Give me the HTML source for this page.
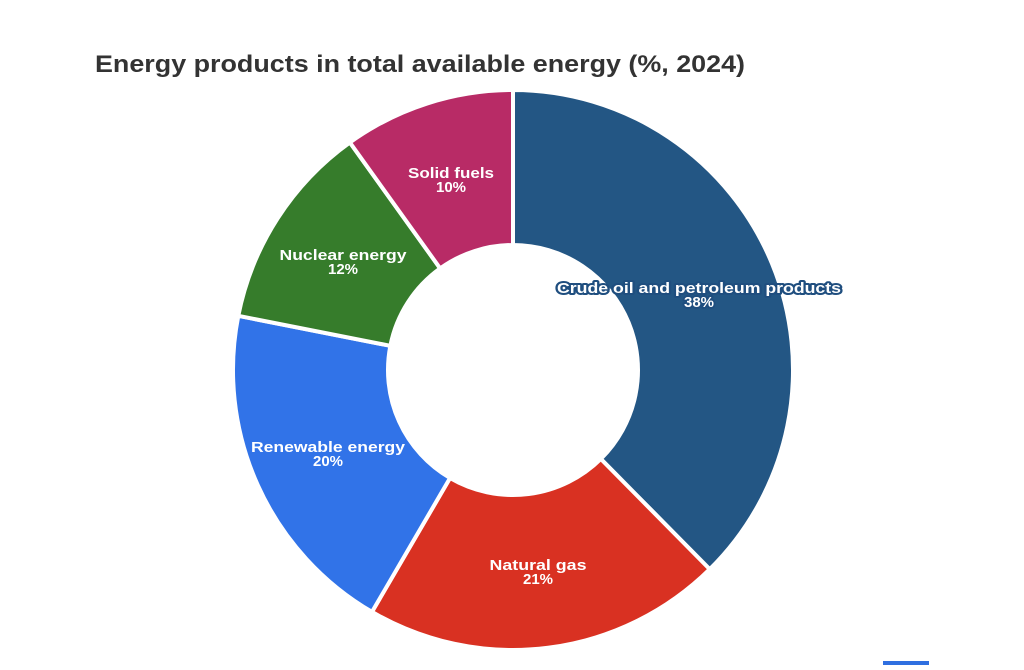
<!DOCTYPE html>
<html><head><meta charset="utf-8"><style>
body{margin:0;background:#fff;width:1024px;height:665px;overflow:hidden;font-family:"Liberation Sans",sans-serif}
</style></head><body>
<svg id="s" width="1024" height="665" viewBox="0 0 1024 665" xmlns="http://www.w3.org/2000/svg">
<text x="95" y="72" font-size="24" font-weight="bold" fill="#333" textLength="650" lengthAdjust="spacingAndGlyphs">Energy products in total available energy (%, 2024)</text>
<g id="slices"></g>
<g font-size="15" font-weight="bold" fill="#fff" text-anchor="middle">
<text x="699" y="293" stroke="#1f4e7f" stroke-width="4" stroke-linejoin="round" paint-order="stroke" textLength="284" lengthAdjust="spacingAndGlyphs">Crude oil and petroleum products</text>
<text x="699" y="307" stroke="#1f4e7f" stroke-width="4" stroke-linejoin="round" paint-order="stroke">38%</text>
<text x="538" y="570" textLength="97" lengthAdjust="spacingAndGlyphs">Natural gas</text><text x="538" y="584">21%</text>
<text x="328" y="452" textLength="154" lengthAdjust="spacingAndGlyphs">Renewable energy</text><text x="328" y="466">20%</text>
<text x="343" y="260" textLength="127" lengthAdjust="spacingAndGlyphs">Nuclear energy</text><text x="343" y="274">12%</text>
<text x="451" y="178" textLength="86" lengthAdjust="spacingAndGlyphs">Solid fuels</text><text x="451" y="192">10%</text>
</g>
<rect x="883" y="661" width="46" height="4" fill="#2f6fe0"/>
</svg>
<script>
var cx=513,cy=370,R=280,r=125;
var d=[[37.6,"#235684"],[20.8,"#d93122"],[19.7,"#3173e8"],[12,"#367c2b"],[9.9,"#b82b66"]];
var a=0,g=document.getElementById("slices"),h="";
function p(rad,t){var an=t*2*Math.PI/100;return (cx+rad*Math.sin(an)).toFixed(2)+","+(cy-rad*Math.cos(an)).toFixed(2);}
d.forEach(function(x){var b=a+x[0],l=x[0]>50?1:0;
h+='<path d="M'+p(R,a)+'A'+R+','+R+' 0 '+l+' 1 '+p(R,b)+'L'+p(r,b)+'A'+r+','+r+' 0 '+l+' 0 '+p(r,a)+'Z" fill="'+x[1]+'" stroke="#fff" stroke-width="4" stroke-linejoin="round"/>';a=b;});
g.innerHTML=h;
</script>
</body></html>
